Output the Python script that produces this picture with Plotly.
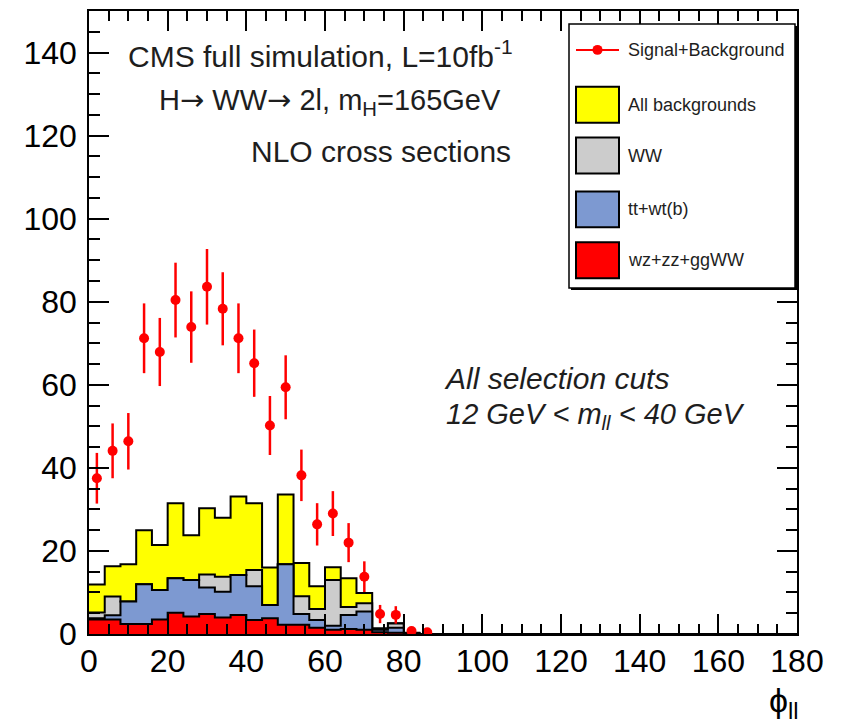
import numpy as np
import plotly.graph_objects as go

# ---- data: phi_ll distribution, 4-degree bins from 0 to 180 ----
bin_width = 4
phi_max = 180

# per-process contributions in each bin (bins beyond 88 are empty)
other_bkg = [3.5, 3.5, 2.4, 2.4, 3.5, 5.1, 4.2, 4.8, 4.0, 4.6, 3.4,
             3.8, 2.2, 2.2, 1.5, 1.0, 1.2, 1.0, 0.4, 0.3, 0.1, 0.0]   # wz+zz+ggWW
ttbar_bkg = [0.3, 1.0, 5.4, 9.6, 7.1, 8.3, 8.8, 6.4, 6.2, 9.6, 8.1,
             3.2, 14.6, 2.6, 1.9, 1.0, 3.4, 4.4, 0.6, 1.2, 0.1, 0.0]   # tt+wt(b)
ww_bkg = [1.4, 4.5, 0.0, 0.0, 0.0, 0.0, 0.0, 3.1, 3.6, 0.0, 3.9,
          0.0, 0.0, 4.3, 2.6, 11.0, 1.9, 2.0, 0.2, 1.0, 0.0, 0.0]      # WW
all_bkg = [11.9, 16.3, 16.8, 25.0, 21.4, 31.5, 23.8, 30.3, 28.0, 33.1, 31.5,
           16.0, 33.6, 17.1, 11.5, 16.1, 13.4, 9.9, 1.4, 2.6, 0.3, 0.0]

# signal + background pseudo-data with statistical errors
sig_bkg = [37.5, 44.1, 46.4, 71.2, 67.9, 80.4, 73.9, 83.6, 78.3, 71.2, 65.2,
           50.2, 59.4, 38.2, 26.4, 29.0, 22.0, 13.8, 4.8, 4.6, 0.7, 0.4]
sig_bkg_err = [6.1, 6.6, 6.8, 8.4, 8.2, 9.0, 8.6, 9.1, 8.8, 8.4, 8.1,
               7.1, 7.7, 6.2, 5.1, 5.4, 4.7, 3.7, 2.2, 2.1, 0.8, 0.6]

x_ticks = [0, 20, 40, 60, 80, 100, 120, 140, 160, 180]
y_ticks = [0, 20, 40, 60, 80, 100, 120, 140]

COL_ALL = "#ffff00"
COL_WW = "#cccccc"
COL_TT = "#7d99d1"
COL_OTHER = "#ff0000"
COL_DATA = "#ff0000"

# ---- histogram helpers ----
n_bins = phi_max // bin_width
edges = np.arange(0, phi_max + bin_width, bin_width)
centers = edges[:-1] + bin_width / 2


def padded(vals):
    arr = np.zeros(n_bins)
    arr[:len(vals)] = vals
    return arr


lvl_other = padded(other_bkg)
lvl_tt = lvl_other + padded(ttbar_bkg)
lvl_ww = lvl_tt + padded(ww_bkg)
lvl_all = padded(all_bkg)


def step_trace(levels, color, name):
    y = np.append(levels, levels[-1])
    return go.Scatter(
        x=edges, y=y, mode="lines", line_shape="hv",
        line=dict(color="black", width=2),
        fill="tozeroy", fillcolor=color,
        name=name, showlegend=False, hoverinfo="skip",
    )


fig = go.Figure()
fig.add_trace(step_trace(lvl_all, COL_ALL, "All backgrounds"))
fig.add_trace(step_trace(lvl_ww, COL_WW, "WW"))
fig.add_trace(step_trace(lvl_tt, COL_TT, "tt+wt(b)"))
fig.add_trace(step_trace(lvl_other, COL_OTHER, "wz+zz+ggWW"))

fig.add_trace(go.Scatter(
    x=centers[:len(sig_bkg)], y=sig_bkg, mode="markers",
    marker=dict(color=COL_DATA, size=10),
    error_y=dict(type="data", array=sig_bkg_err, color=COL_DATA,
                 thickness=2.5, width=0),
    name="Signal+Background", showlegend=False,
))

# ---- layout ----
W, H = 847, 724
ML, MR, MT, MB = 89, 50, 9, 90
PW, PH = W - ML - MR, H - MT - MB


def px(xp):
    return (xp - ML) / PW


def py(yp):
    return (H - MB - yp) / PH


FONT = "Liberation Sans, Arial, Helvetica, sans-serif"
TXT = "#1e1e1e"
ARROW = "<span style='font-family:DejaVu Sans'>\u2192</span>"

axis_common = dict(
    showline=True, linecolor="black", linewidth=1.5, mirror="allticks",
    ticks="inside", ticklen=20, tickwidth=1.5, tickcolor="black",
    showgrid=False, zeroline=False,
    tickfont=dict(family=FONT, size=32, color="black"),
)

fig.update_layout(
    width=W, height=H,
    margin=dict(l=ML, r=MR, t=MT, b=MB),
    paper_bgcolor="white", plot_bgcolor="white",
    showlegend=False,
    xaxis=dict(range=[0, phi_max], tickvals=x_ticks,
               minor=dict(dtick=5, tick0=0, ticks="inside", ticklen=10,
                          tickwidth=1.5, tickcolor="black"),
               ticklabelstandoff=-2, **axis_common),
    yaxis=dict(range=[0, 150], tickvals=y_ticks,
               minor=dict(dtick=5, tick0=0, ticks="inside", ticklen=11,
                          tickwidth=1.5, tickcolor="black"),
               ticklabelstandoff=4, **axis_common),
)

annotations = [
    dict(text="CMS full simulation, L=10fb<sup>-1</sup>", x=px(126), y=py(52), size=30),
    dict(text=f"H{ARROW} WW{ARROW} 2l, m<sub>H</sub>=165GeV", x=px(157), y=py(100), size=29),
    dict(text="NLO cross sections", x=px(249), y=py(150), size=30),
    dict(text="<i>All selection cuts</i>", x=px(442), y=py(378), size=30),
    dict(text="<i>12 GeV &lt; m<sub>ll</sub> &lt; 40 GeV</i>", x=px(444), y=py(415), size=29),
]
for a in annotations:
    fig.add_annotation(text=a["text"], x=a["x"], y=a["y"], xref="paper", yref="paper",
                       xanchor="left", yanchor="middle", showarrow=False,
                       font=dict(family=FONT, size=a["size"], color=TXT))

# axis title
fig.add_annotation(text="\u03d5<sub>ll</sub>", x=px(801), y=py(703), xref="paper", yref="paper",
                   xanchor="right", yanchor="middle", showarrow=False,
                   font=dict(family=FONT, size=34, color="black"))

# ---- legend box ----
shapes = []
box_x0, box_x1, box_y0, box_y1 = 569, 795, 22, 287
shapes.append(dict(type="rect", xref="paper", yref="paper",
                   x0=px(box_x0 + 2), x1=px(box_x1 + 2), y0=py(box_y0 + 2), y1=py(box_y1 + 2),
                   line=dict(width=0), fillcolor="black"))
shapes.append(dict(type="rect", xref="paper", yref="paper",
                   x0=px(box_x0), x1=px(box_x1), y0=py(box_y0), y1=py(box_y1),
                   line=dict(color="black", width=1.5), fillcolor="white"))

sw_x0, sw_x1 = 576, 619
# data entry: line with marker
shapes.append(dict(type="line", xref="paper", yref="paper",
                   x0=px(sw_x0), x1=px(sw_x1), y0=py(48), y1=py(48),
                   line=dict(color=COL_DATA, width=2)))
cx = (sw_x0 + sw_x1) / 2
shapes.append(dict(type="circle", xref="paper", yref="paper",
                   x0=px(cx - 5), x1=px(cx + 5), y0=py(48 - 5), y1=py(48 + 5),
                   line=dict(color=COL_DATA, width=0), fillcolor=COL_DATA))

legend_rows = [
    ("Signal+Background", None, 48),
    ("All backgrounds", COL_ALL, 103),
    ("WW", COL_WW, 154),
    ("tt+wt(b)", COL_TT, 208),
    ("wz+zz+ggWW", COL_OTHER, 259),
]
for label, color, yc in legend_rows:
    if color is not None:
        shapes.append(dict(type="rect", xref="paper", yref="paper",
                           x0=px(sw_x0), x1=px(sw_x1), y0=py(yc - 18), y1=py(yc + 18),
                           line=dict(color="black", width=2), fillcolor=color))
    fig.add_annotation(text=label, x=px(626), y=py(yc), xref="paper", yref="paper",
                       xanchor="left", yanchor="middle", showarrow=False,
                       font=dict(family=FONT, size=18, color=TXT))

fig.update_layout(shapes=shapes)

fig.write_html("out.html")
